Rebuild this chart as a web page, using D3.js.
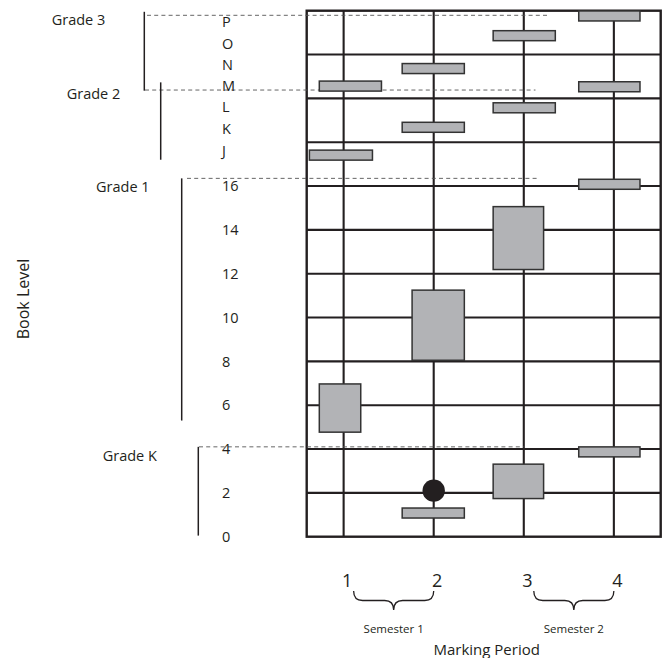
<!DOCTYPE html>
<html><head><meta charset="utf-8">
<script src="https://cdn.jsdelivr.net/npm/d3@7"></script>
<style>
html,body{margin:0;padding:0;background:#fff;}
svg{display:block;font-family:"Open Sans",sans-serif;}
</style></head><body>
<svg id="chart" width="668" height="658"></svg>
<script>
// ---------------- data ----------------
const periods = [1, 2, 3, 4];
const periodLabels = ["1", "2", "3", "4"];
const semesters = ["Semester 1", "Semester 2"];
const semesterPeriods = [[1, 2], [3, 4]];
// book-level tick labels and their positions on the level scale
const levelTickLabels = ["0","2","4","6","8","10","12","14","16","J","K","L","M","N","O","P"];
const levelTickValues = [0,2,4,6,8,10,12,14,16,17.6,18.6,19.6,20.55,21.55,22.5,23.5];
const gridLevels = [0,2,4,6,8,10,12,14,16,18,20,22,24];
// grades: bracketed level span and top boundary level
const grades = ["Grade K","Grade 1","Grade 2","Grade 3"];
const gradeBracketLo = [0.05, 5.3, 17.2, 20.35];
const gradeBracketHi = [4.1, 16.35, 20.73, 23.95];
const gradeBoundary = [4.1, 16.35, 20.38, 23.79];
const gradeBoundaryEnd = [3.0, 3.16, 3.13, 3.28];   // marking period where dashed boundary stops
// single-level readings (thin bars)
const barStart = [3.61, 2.66, 1.65, 0.73, 3.61, 2.66, 1.65, 0.62, 3.61, 3.61, 1.65];
const barEnd   = [4.29, 3.35, 2.34, 1.42, 4.29, 3.35, 2.34, 1.32, 4.29, 4.29, 2.34];
const barLevel = [23.76, 22.86, 21.36, 20.56, 20.53, 19.57, 18.68, 17.41, 16.08, 3.87, 1.08];
// range readings (boxes)
const boxStart = [0.73, 1.76, 2.66, 2.66];
const boxEnd   = [1.19, 2.34, 3.22, 3.22];
const boxLow   = [4.77, 8.05, 12.19, 1.74];
const boxHigh  = [6.97, 11.25, 15.06, 3.31];
// single point reading
const dotPeriod = [2.0];
const dotLevel  = [2.1];

// ---------------- layout / style ----------------
const INK = "#231f20";
const plot = {left: 306.7, right: 660.7, top: 10.7, bottom: 536.7};
const bracketX = [198.3, 181.7, 160.7, 144.3];
const dashStartX = [199, 187, 145, 147];
const gradeLabelX = [102.7, 96, 66.7, 51.7];
const gradeLabelDy = [9.3, 8.4, 4.3, 4.8];
const barH = 10;

const svg = d3.select("#chart");
const x = d3.scaleLinear().domain([0.59, 4.52]).range([plot.left, plot.right]);
const y = d3.scaleLinear().domain([0, 24]).range([plot.bottom, plot.top]);

// grid
const grid = svg.append("g").attr("stroke", INK).attr("stroke-width", 2.1);
grid.selectAll("line.h").data(gridLevels.slice(1, -1)).join("line")
  .attr("x1", plot.left).attr("x2", plot.right)
  .attr("y1", d => y(d)).attr("y2", d => y(d));
grid.selectAll("line.v").data(periods).join("line")
  .attr("x1", d => x(d)).attr("x2", d => x(d))
  .attr("y1", plot.top).attr("y2", plot.bottom);
svg.append("rect").attr("x", plot.left).attr("y", plot.top)
  .attr("width", plot.right - plot.left).attr("height", plot.bottom - plot.top)
  .attr("fill", "none").attr("stroke", INK).attr("stroke-width", 2.4);

// grade dashed boundaries
const gDash = svg.append("g").attr("stroke", "#555").attr("stroke-width", 0.9)
  .attr("stroke-dasharray", "4,3.2");
grades.forEach((g, i) => {
  gDash.append("line").attr("x1", dashStartX[i]).attr("x2", x(gradeBoundaryEnd[i]))
    .attr("y1", y(gradeBoundary[i])).attr("y2", y(gradeBoundary[i]));
});

// grade brackets and labels
const gBr = svg.append("g");
grades.forEach((g, i) => {
  gBr.append("line").attr("x1", bracketX[i]).attr("x2", bracketX[i])
    .attr("y1", y(gradeBracketHi[i])).attr("y2", y(gradeBracketLo[i]))
    .attr("stroke", INK).attr("stroke-width", 1.5);
  gBr.append("text").attr("x", gradeLabelX[i]).attr("y", y(gradeBoundary[i]) + gradeLabelDy[i])
    .attr("dy", "0.35em").attr("font-size", 14.5).attr("fill", INK).text(g);
});

// y tick labels
const yAxis = d3.axisLeft(y).tickValues(levelTickValues)
  .tickFormat((d, i) => levelTickLabels[i]).tickSize(0).tickPadding(0);
const gy = svg.append("g").attr("transform", "translate(222,0)").call(yAxis);
gy.select(".domain").remove();
gy.attr("font-family", null).attr("font-size", null);
gy.selectAll("text").attr("text-anchor", "start").attr("x", 0)
  .attr("font-size", 14.5).attr("fill", INK);

// boxes
const fill = "#b2b3b6", edge = "#333";
svg.append("g").selectAll("rect").data(boxStart).join("rect")
  .attr("x", (d, i) => x(boxStart[i])).attr("width", (d, i) => x(boxEnd[i]) - x(boxStart[i]))
  .attr("y", (d, i) => y(boxHigh[i])).attr("height", (d, i) => y(boxLow[i]) - y(boxHigh[i]))
  .attr("fill", fill).attr("stroke", edge).attr("stroke-width", 1.5);
// thin bars
svg.append("g").selectAll("rect").data(barLevel).join("rect")
  .attr("x", (d, i) => x(barStart[i])).attr("width", (d, i) => x(barEnd[i]) - x(barStart[i]))
  .attr("y", d => y(d) - barH / 2).attr("height", barH)
  .attr("fill", fill).attr("stroke", edge).attr("stroke-width", 1.5);
// dot
svg.append("g").selectAll("circle").data(dotLevel).join("circle")
  .attr("cx", (d, i) => x(dotPeriod[i])).attr("cy", d => y(d)).attr("r", 11.2)
  .attr("fill", INK);

// x axis period labels
const xAxis = d3.axisBottom(x).tickValues(periods)
  .tickFormat((d, i) => periodLabels[i]).tickSize(0).tickPadding(0);
const gx = svg.append("g").attr("transform", "translate(3,574)").call(xAxis);
gx.select(".domain").remove();
gx.attr("font-family", null).attr("font-size", null);
gx.selectAll("text").attr("font-size", 18).attr("fill", INK);

// semester braces
function brace(x1, x2, yTop, yMid, yBot, q) {
  const xm = (x1 + x2) / 2;
  return `M${x1},${yTop} Q${x1},${yMid} ${x1 + q},${yMid} L${xm - q},${yMid} Q${xm},${yMid} ${xm},${yBot}` +
         ` M${xm},${yBot} Q${xm},${yMid} ${xm + q},${yMid} L${x2 - q},${yMid} Q${x2},${yMid} ${x2},${yTop}`;
}
semesters.forEach((s, i) => {
  const x1 = x(semesterPeriods[i][0]) + 10, x2 = x(semesterPeriods[i][1]);
  svg.append("path").attr("d", brace(x1, x2, 591, 600.5, 610, 9))
    .attr("fill", "none").attr("stroke", INK).attr("stroke-width", 1.3);
  svg.append("text").attr("x", (x1 + x2) / 2).attr("y", 629).attr("dy", "0.35em")
    .attr("text-anchor", "middle").attr("font-size", 11.5).attr("fill", INK).text(s);
});

// axis titles
svg.append("text").attr("x", (plot.left + plot.right) / 2 + 3).attr("y", 650).attr("dy", "0.35em")
  .attr("text-anchor", "middle").attr("font-size", 15).attr("fill", INK).text("Marking Period");
svg.append("text").attr("transform", "translate(23,299) rotate(-90)").attr("dy", "0.35em")
  .attr("text-anchor", "middle").attr("font-size", 16).attr("fill", INK).text("Book Level");
</script>
</body></html>
